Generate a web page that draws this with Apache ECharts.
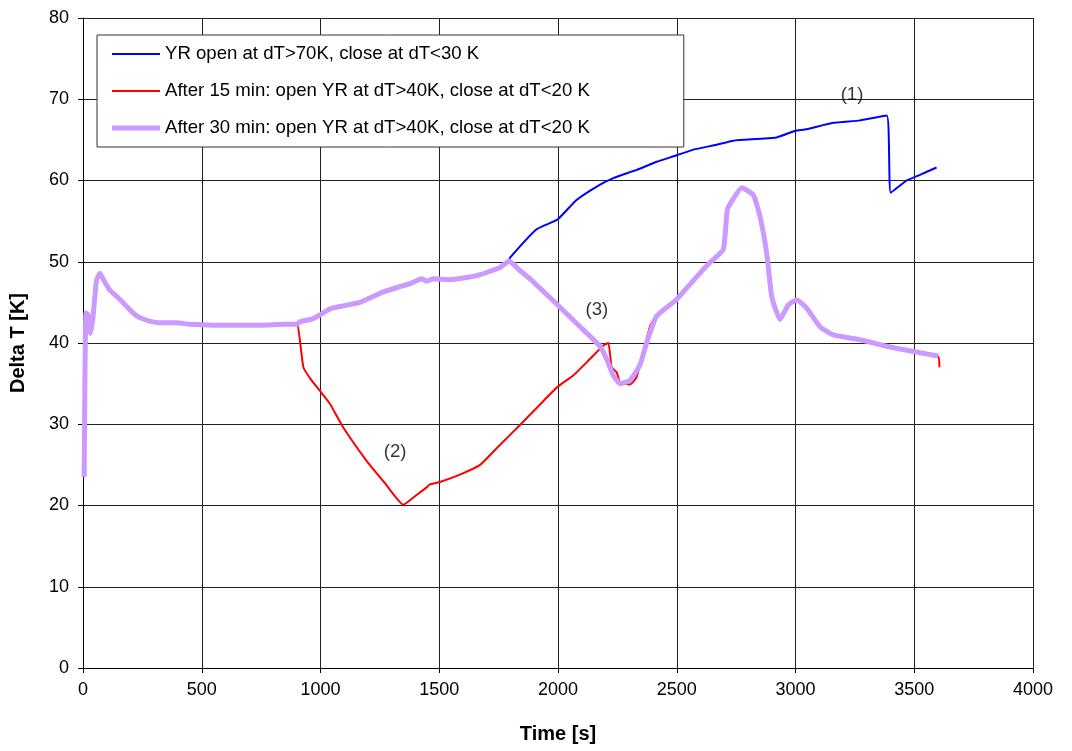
<!DOCTYPE html>
<html>
<head>
<meta charset="utf-8">
<script src="https://cdn.jsdelivr.net/npm/echarts@6/dist/echarts.min.js"></script>
<style>
html,body{margin:0;padding:0;background:#fff;}
#chart{width:1072px;height:751px;}
</style>
</head>
<body>
<div id="chart"></div>
<script>
// ---- Data (time [s], delta T [K]) ----
const seriesNames = [
  'YR open at dT>70K, close at dT<30 K',
  'After 15 min: open YR at dT>40K, close at dT<20 K',
  'After 30 min: open YR at dT>40K, close at dT<20 K'
];
const xTicks = [0, 500, 1000, 1500, 2000, 2500, 3000, 3500, 4000];
const yTicks = [0, 10, 20, 30, 40, 50, 60, 70, 80];

// shared start of all three runs (0 - 900 s)
const sharedStart = [
  [5,23.5],[12,43.7],[21,43.5],[27,41.8],[32,41.2],[42,43.2],[57,47.7],[71,48.6],
  [90,47.6],[113,46.5],[150,45.5],[184,44.5],[215,43.6],[240,43.1],[280,42.7],
  [324,42.5],[394,42.5],[450,42.3],[550,42.2],[650,42.2],[750,42.2],[850,42.3],[900,42.3]
];
// shared 900 - 1794 s (blue & purple)
const sharedMid = [
  [913,42.6],[970,43.0],[1000,43.5],[1040,44.2],[1100,44.6],[1166,45.0],[1265,46.3],
  [1377,47.3],[1426,47.9],[1447,47.6],[1475,47.9],[1545,47.8],[1658,48.3],[1756,49.3],[1794,50.1]
];
const blueBranch = [
  [1798,50.5],[1910,54.0],[1998,55.2],[2078,57.6],[2177,59.5],[2233,60.3],[2331,61.3],
  [2415,62.3],[2500,63.1],[2570,63.8],[2668,64.4],[2738,64.9],[2920,65.3],[2997,66.1],
  [3046,66.3],[3159,67.1],[3272,67.4],[3384,68.0],[3401,58.5],[3468,60.0],[3524,60.7],[3594,61.6]
];
const purpleBranch = [
  [1840,48.9],[1882,47.9],[1980,45.2],[2093,42.0],[2177,39.6],[2205,38.0],[2233,36.0],
  [2261,35.0],[2303,35.4],[2345,37.3],[2373,40.0],[2415,43.3],[2497,45.3],[2598,48.6],
  [2640,49.9],[2696,51.5],[2713,56.4],[2739,57.8],[2774,59.1],[2823,58.2],[2851,55.5],
  [2879,51.0],[2900,45.7],[2935,42.9],[2970,44.7],[3005,45.3],[3047,44.3],[3103,42.0],
  [3159,41.0],[3272,40.4],[3384,39.6],[3524,38.8],[3601,38.4]
];
const redBranch = [
  [928,37.0],[960,35.5],[998,34.1],[1040,32.5],[1096,29.6],[1194,25.5],[1270,22.8],
  [1349,20.1],[1400,21.2],[1446,22.2],[1460,22.6],[1503,22.9],[1587,23.8],[1672,25.0],
  [1750,27.3],[1840,29.9],[1920,32.3],[1998,34.6],[2064,36.0],[2130,37.9],[2191,39.7],
  [2212,40.0],[2226,37.0],[2247,36.4],[2261,35.2],[2303,34.9],[2331,35.8],[2387,42.0],
  [2415,43.4],[2497,45.2],[2598,48.5],[2640,49.8],[2696,51.4],[2713,56.3],[2739,57.8],
  [2774,59.2],[2823,58.3],[2851,55.6],[2879,51.1],[2900,45.8],[2935,42.9],[2970,44.6],
  [3005,45.3],[3047,44.4],[3103,42.1],[3159,41.0],[3272,40.5],[3384,39.6],[3524,38.8],
  [3601,38.3],[3606,37.0]
];
const annotations = [
  {text:'(1)', t:3238, v:70.5},
  {text:'(2)', t:1314, v:26.6},
  {text:'(3)', t:2164, v:44.1}
];

const blueData = sharedStart.concat(sharedMid, blueBranch);
const redData = sharedStart.concat(redBranch);
const purpleData = sharedStart.concat(sharedMid, purpleBranch);

const colors = ['#0000FF', '#FF0000', '#CC99FF'];
const widths = [2, 2, 5];

const font = 'Arial, "Liberation Sans", sans-serif';
const chart = echarts.init(document.getElementById('chart'), null, {renderer:'canvas'});
chart.setOption({
  animation:false,
  backgroundColor:'#fff',
  grid:{left:83, right:39, top:18, bottom:83, containLabel:false},
  legend:{
    orient:'vertical', left:97, top:35,
    data:seriesNames.map((n,i)=>({
      name:n,
      icon:'path://M0,0H48V' + widths[i] + 'H0Z',
      itemStyle:{color:colors[i], borderWidth:0}
    })),
    symbolKeepAspect:true,
    backgroundColor:'#fff', borderColor:'#333', borderWidth:1,
    padding:[9,94,9,15],
    itemWidth:48, itemHeight:14, itemGap:17,
    textStyle:{fontFamily:font, fontSize:18.6, color:'#000', lineHeight:20}
  },
  xAxis:{
    type:'value', min:0, max:4000, interval:500,
    name:'Time [s]', nameLocation:'middle', nameGap:56,
    nameTextStyle:{fontFamily:font, fontSize:20, fontWeight:'bold', color:'#000'},
    axisLine:{show:true, onZero:false, lineStyle:{color:'#000', width:1}},
    axisTick:{show:true, inside:false, length:5, lineStyle:{color:'#000'}},
    axisLabel:{fontFamily:font, fontSize:18, color:'#000', margin:13,
      formatter:v=>xTicks.includes(v)?String(v):''},
    splitLine:{show:true, lineStyle:{color:'#222', width:1}}
  },
  yAxis:{
    type:'value', min:0, max:80, interval:10,
    name:'Delta T [K]', nameLocation:'middle', nameGap:55, nameRotate:90,
    nameTextStyle:{fontFamily:font, fontSize:20, fontWeight:'bold', color:'#000'},
    axisLine:{show:true, onZero:false, lineStyle:{color:'#000', width:1}},
    axisTick:{show:true, inside:false, length:5, lineStyle:{color:'#000'}},
    axisLabel:{fontFamily:font, fontSize:18, color:'#000', margin:14,
      formatter:v=>yTicks.includes(v)?String(v):''},
    splitLine:{show:true, lineStyle:{color:'#222', width:1}}
  },
  series:[
    {name:seriesNames[0], type:'line', data:blueData, symbol:'none', smooth:0.15,
      lineStyle:{color:colors[0], width:widths[0]}, itemStyle:{color:colors[0]}, z:3},
    {name:seriesNames[1], type:'line', data:redData, symbol:'none', smooth:0.15,
      lineStyle:{color:colors[1], width:widths[1]}, itemStyle:{color:colors[1]}, z:4},
    {name:seriesNames[2], type:'line', data:purpleData, symbol:'none', smooth:0.15,
      lineStyle:{color:colors[2], width:widths[2]}, itemStyle:{color:colors[2]}, z:5},
    {name:'annotations', type:'scatter', symbolSize:0, z:6, silent:true,
      data:annotations.map(a=>({value:[a.t,a.v], name:a.text})),
      label:{show:true, position:'inside', formatter:p=>p.name,
        fontFamily:font, fontSize:18.6, color:'#000'}}
  ]
});
</script>
</body>
</html>
